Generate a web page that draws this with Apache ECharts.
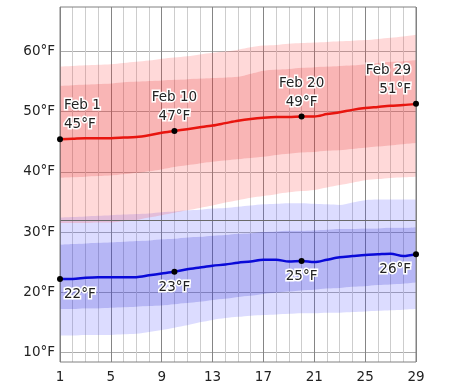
<!DOCTYPE html>
<html><head><meta charset="utf-8">
<script src="https://cdn.jsdelivr.net/npm/echarts@6/dist/echarts.min.js"></script>
<style>html,body{margin:0;padding:0;background:#fff}#c{width:474px;height:389px}</style>
</head><body><div id="c"></div>
<script>
const days = [1,2,3,4,5,6,7,8,9,10,11,12,13,14,15,16,17,18,19,20,21,22,23,24,25,26,27,28,29];
const month = 'Feb';
const yTicks = [10,20,30,40,50,60];
const labelDays = [1,10,20,29];
const freezing = 32;

const highAvg = [45.4,45.5,45.6,45.6,45.6,45.7,45.8,46.1,46.5,46.8,47.1,47.4,47.7,48.1,48.5,48.8,49.0,49.1,49.1,49.2,49.2,49.6,49.9,50.3,50.6,50.8,51.0,51.1,51.3];
const highP90 = [57.5,57.6,57.7,57.8,57.9,58.1,58.3,58.5,58.8,59.0,59.2,59.5,59.8,60.0,60.3,60.7,61.0,61.1,61.3,61.4,61.5,61.6,61.7,61.8,61.9,62.1,62.3,62.5,62.8];
const highP75 = [54.3,54.4,54.5,54.6,54.7,54.9,55.0,55.1,55.2,55.3,55.4,55.5,55.6,55.7,55.8,56.3,56.8,57.0,57.1,57.3,57.4,57.5,57.6,57.7,57.9,58.1,58.3,58.4,58.6];
const highP25 = [39.0,39.1,39.2,39.3,39.4,39.6,39.8,40.1,40.4,40.8,41.1,41.4,41.7,41.9,42.1,42.3,42.5,42.8,43.0,43.2,43.3,43.5,43.6,43.8,44.0,44.2,44.4,44.6,44.8];
const highP10 = [31.5,31.5,31.5,31.6,31.6,31.8,32.0,32.4,32.8,33.2,33.6,34.0,34.4,34.9,35.3,35.7,36.0,36.3,36.6,36.8,37.0,37.4,37.8,38.2,38.6,38.8,39.0,39.1,39.2];

const lowAvg = [22.2,22.2,22.4,22.5,22.5,22.5,22.5,22.8,23.1,23.4,23.8,24.1,24.4,24.6,24.9,25.1,25.4,25.4,25.1,25.2,25.0,25.4,25.8,26.0,26.2,26.3,26.4,26.0,26.3];
const lowP90 = [32.4,32.5,32.6,32.7,32.8,32.9,33.0,33.1,33.3,33.4,33.6,33.7,33.9,34.0,34.2,34.4,34.6,34.7,34.8,34.8,34.7,34.6,34.5,34.9,35.3,35.4,35.4,35.4,35.4];
const lowP75 = [27.9,28.0,28.1,28.2,28.3,28.4,28.5,28.6,28.8,28.9,29.1,29.2,29.4,29.5,29.7,29.8,30.0,30.1,30.2,30.2,30.3,30.4,30.5,30.5,30.6,30.6,30.7,30.7,30.8];
const lowP25 = [17.2,17.2,17.3,17.3,17.4,17.5,17.6,17.7,17.8,18.0,18.2,18.4,18.7,18.9,19.2,19.4,19.7,19.9,20.1,20.3,20.4,20.6,20.7,20.9,21.0,21.2,21.3,21.4,21.6];
const lowP10 = [12.8,12.8,12.9,12.9,12.9,13.0,13.1,13.4,13.7,14.1,14.5,15.0,15.4,15.7,15.9,16.1,16.2,16.3,16.4,16.5,16.5,16.6,16.6,16.7,16.8,16.9,17.0,17.1,17.2];

const FONT = 'DejaVu Sans';
const diff = (a, b) => a.map((v, i) => +(v - b[i]).toFixed(2));

function band(data, stack, color, z) {
  return {
    type: 'line', data: data, stack: stack, symbol: 'none', silent: true, z: z, smooth: 0.3,
    lineStyle: { width: 0, opacity: 0 },
    areaStyle: color ? { color: color, opacity: 1 } : undefined,
    emphasis: { disabled: true }
  };
}

function avgData(values, isHigh) {
  return values.map((v, i) => {
    const d = days[i];
    if (labelDays.indexOf(d) < 0) return { value: v, symbol: 'none' };
    const first = d === days[0], last = d === days[days.length - 1];
    const text = isHigh ? (month + ' ' + d + '\n' + Math.round(v) + '°F') : (Math.round(v) + '°F');
    return {
      value: v, symbol: 'circle', symbolSize: 6,
      itemStyle: { color: '#000' },
      label: {
        show: true, formatter: text,
        position: isHigh ? 'top' : 'bottom', distance: isHigh ? 2 : 3,
        align: first ? 'left' : (last ? 'right' : 'center'),
        offset: first ? [4, 0] : (last ? [-5, 0] : [0, 0]),
        fontFamily: FONT, fontSize: 13.5, lineHeight: 19, color: '#222',
        textBorderColor: '#fff', textBorderWidth: 3
      }
    };
  });
}

const chart = echarts.init(document.getElementById('c'), null, { renderer: 'canvas' });
chart.setOption({
  animation: false,
  grid: { left: 60, right: 58, top: 7, bottom: 27, show: true, borderColor: '#808080', borderWidth: 1, backgroundColor: 'transparent', z: 8 },
  xAxis: [
    { type: 'category', data: days, boundaryGap: false, position: 'bottom',
      axisLine: { show: false }, axisTick: { show: false },
      axisLabel: { interval: 3, fontFamily: FONT, fontSize: 13.5, color: '#222', margin: 8 },
      splitLine: { show: true, interval: 0, lineStyle: { color: '#cdcdcd', width: 1 } } },
    { type: 'category', data: days, boundaryGap: false, position: 'top',
      axisLine: { show: false }, axisTick: { show: false }, axisLabel: { show: false },
      splitLine: { show: true, interval: 3, lineStyle: { color: '#858585', width: 1 } } }
  ],
  yAxis: {
    type: 'value', min: 8.4, max: 67.4,
    axisLine: { show: false },
    axisTick: { show: false, customValues: yTicks },
    axisLabel: { customValues: yTicks, formatter: v => v + '°F', fontFamily: FONT, fontSize: 13.5, color: '#222', margin: 5 },
    splitLine: { show: true, lineStyle: { color: '#acacac', width: 1 } }
  },
  series: [
    band(lowP10, 'lo', null, 1),
    band(diff(lowP25, lowP10), 'lo', 'rgba(80,80,255,0.2)', 1),
    band(diff(lowP75, lowP25), 'lo', 'rgba(47,47,226,0.35)', 1),
    band(diff(lowP90, lowP75), 'lo', 'rgba(80,80,255,0.2)', 1),
    band(highP10, 'hi', null, 2),
    band(diff(highP25, highP10), 'hi', 'rgba(255,65,65,0.2)', 2),
    band(diff(highP75, highP25), 'hi', 'rgba(238,44,44,0.35)', 2),
    band(diff(highP90, highP75), 'hi', 'rgba(255,65,65,0.2)', 2),
    { type: 'line', data: avgData(highAvg, true), z: 10, smooth: 0.3, lineStyle: { color: '#e8150f', width: 2.5 },
      itemStyle: { color: '#000' }, silent: true, emphasis: { disabled: true },
      markLine: { silent: true, symbol: 'none', label: { show: false },
        lineStyle: { color: '#6a6a6a', width: 1, type: 'solid' }, data: [{ yAxis: freezing }] } },
    { type: 'line', data: avgData(lowAvg, false), z: 10, smooth: 0.3, lineStyle: { color: '#0a0ad8', width: 2.5 },
      itemStyle: { color: '#000' }, silent: true, emphasis: { disabled: true } }
  ]
});
</script></body></html>
